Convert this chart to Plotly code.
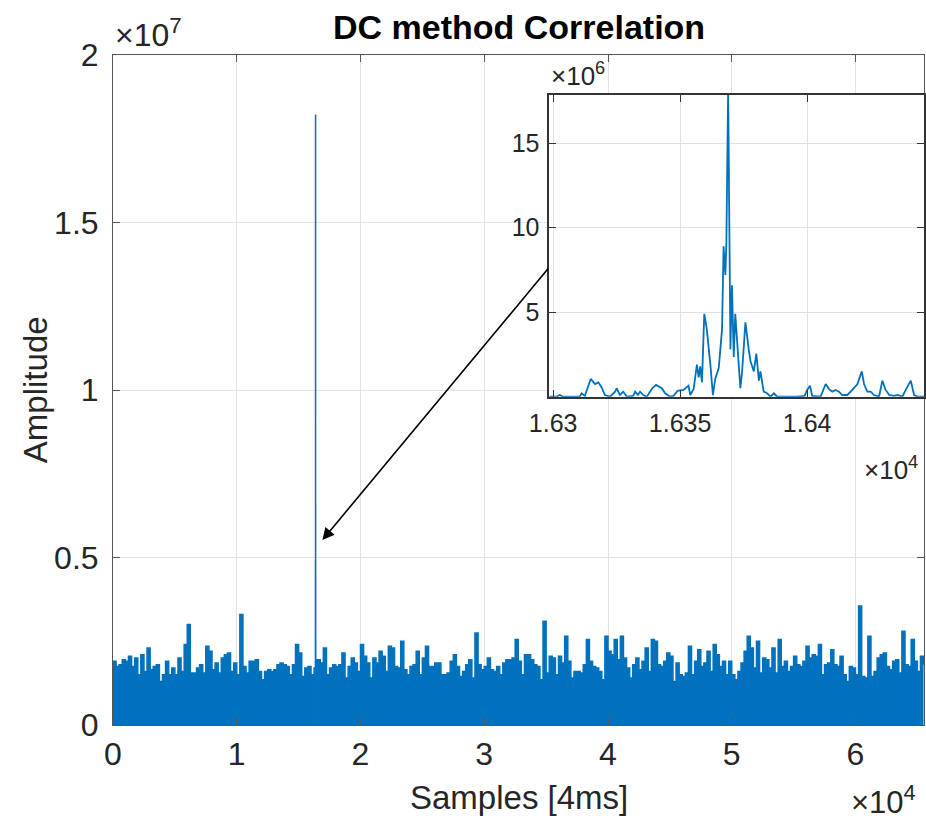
import plotly.graph_objects as go

# correlation magnitude, coarse readout every 250 samples (units of 1e6)
noise_step = 250
noise_vals = [
    1.9, 1.75, 1.8, 1.95, 1.9, 2.05, 1.75, 2.0, 1.5, 2.1,
    1.6, 2.3, 1.65, 1.75, 1.8, 1.3, 1.5, 1.9, 1.5, 1.7,
    1.5, 2.0, 1.6, 2.4, 3.0, 1.55, 1.55, 1.7, 1.8, 1.55,
    2.35, 2.2, 1.65, 1.85, 1.55, 2.0, 2.1, 2.15, 1.6, 1.85,
    1.5, 3.3, 1.75, 1.55, 1.9, 1.9, 1.95, 1.6, 1.35, 1.6,
    1.65, 1.6, 1.65, 1.8, 1.85, 1.8, 1.75, 1.5, 1.8, 2.4,
    2.15, 1.45, 1.7, 1.75, 1.5, 1.7, 1.95, 1.85, 2.3, 1.5,
    1.7, 1.8, 1.75, 1.8, 2.15, 1.4, 1.75, 2.0, 1.85, 1.6,
    2.4, 2.05, 1.85, 1.4, 2.0, 1.85, 2.2, 2.05, 1.6, 2.35,
    2.3, 1.75, 1.7, 2.5, 1.65, 1.5, 1.75, 1.8, 2.2, 1.5,
    2.0, 2.35, 1.75, 1.75, 1.85, 1.85, 1.5, 1.5, 1.55, 1.9,
    2.1, 1.75, 1.45, 1.6, 1.8, 1.95, 1.4, 2.75, 1.8, 1.65,
    1.75, 2.0, 1.65, 1.6, 1.75, 1.5, 1.85, 1.95, 1.95, 2.0,
    2.55, 1.9, 1.5, 2.1, 2.1, 1.95, 1.8, 1.75, 1.35, 3.1,
    1.55, 2.05, 2.0, 1.5, 2.05, 1.85, 2.65, 1.9, 1.4, 1.6,
    1.6, 1.55, 1.8, 2.55, 1.9, 1.75, 1.7, 1.6, 1.35, 2.65,
    2.2, 2.1, 2.55, 1.95, 2.65, 2.0, 1.7, 1.4, 1.8, 2.0,
    1.65, 1.9, 2.3, 1.6, 2.55, 2.5, 1.8, 1.75, 1.9, 2.15,
    2.05, 1.3, 1.85, 1.5, 1.45, 1.55, 2.35, 1.5, 1.9, 2.25,
    1.75, 1.85, 2.2, 1.6, 2.4, 2.1, 1.75, 1.9, 1.5, 1.9,
    1.5, 1.35, 1.6, 1.85, 2.2, 2.65, 2.3, 1.7, 2.5, 1.55,
    2.0, 1.95, 1.7, 2.3, 1.55, 2.55, 1.75, 1.9, 1.6, 1.75,
    2.05, 1.8, 1.75, 1.9, 2.35, 2.0, 2.1, 2.05, 2.4, 1.5,
    1.8, 1.85, 2.25, 1.8, 1.75, 2.05, 1.5, 1.3, 1.75, 1.7,
    1.5, 3.55, 1.45, 1.4, 2.65, 1.45, 1.6, 2.0, 2.1, 2.15,
    1.75, 1.65, 1.9, 1.95, 1.55, 2.8, 1.8, 1.75, 2.55, 1.9,
    1.6, 2.05, 1.8,
]

# detailed readout around the correlation peak (samples, units of 1e6)
zoom_x = [
    16298.4, 16301.3, 16302.6, 16304.0, 16307.0, 16310.5, 16311.2, 16312.5,
    16314.8, 16316.5, 16317.8, 16319.1, 16320.4, 16322.4, 16324.4, 16325.0,
    16326.3, 16327.6, 16329.0, 16331.5, 16332.3, 16333.4, 16334.2, 16335.5,
    16336.9, 16339.0, 16340.5, 16342.8, 16344.1, 16346.1, 16347.4, 16349.0,
    16351.3, 16353.3, 16354.0, 16355.3, 16356.6, 16357.3, 16357.9, 16358.6,
    16359.5, 16360.5, 16361.9, 16362.9, 16363.8, 16365.2, 16366.5, 16367.1,
    16367.8, 16368.2, 16368.9, 16369.8, 16370.4, 16371.1, 16371.7, 16373.0,
    16373.7, 16374.4, 16375.7, 16377.0, 16377.7, 16379.0, 16380.0, 16381.0,
    16381.6, 16382.9, 16384.2, 16385.6, 16386.9, 16388.2, 16393.4, 16396.1,
    16399.0, 16400.0, 16401.1, 16402.0, 16405.3, 16407.3, 16408.6, 16409.9,
    16411.2, 16412.5, 16413.8, 16415.8, 16417.8, 16419.8, 16421.5, 16422.4,
    16423.7, 16425.0, 16426.3, 16428.3, 16429.6, 16430.9, 16432.3, 16434.2,
    16435.6, 16437.5, 16438.8, 16440.8, 16442.1, 16443.5, 16446.1,
]
zoom_y = [
    0.0, 0.0, 0.1, 0.0, 0.0, 0.0, 0.2, 0.05,
    1.05, 0.75, 0.85, 0.55, 0.1, 0.0, 0.3, 0.5,
    0.1, 0.3, 0.0, 0.05, 0.3, 0.1, 0.3, 0.1,
    0.0, 0.5, 0.7, 0.5, 0.2, 0.0, 0.05, 0.35,
    0.4, 0.65, 0.1, 0.45, 1.9, 1.15, 1.8, 0.85,
    4.9, 4.0, 1.9, 0.1, 1.05, 1.7, 4.0, 8.9,
    7.2, 9.1, 18.2, 2.8, 6.6, 2.35, 4.9, 1.7,
    0.5, 1.5, 4.4, 2.8, 2.1, 1.5, 2.55, 0.95,
    1.5, 0.3, 0.2, 0.0, 0.2, 0.0, 0.0, 0.0,
    0.05, 0.4, 0.65, 0.05, 0.0, 0.75, 0.45, 0.3,
    0.4, 0.3, 0.1, 0.1, 0.4, 0.75, 1.5, 0.75,
    0.3, 0.3, 0.1, 0.0, 0.95, 0.4, 0.1, 0.05,
    0.1, 0.0, 0.4, 0.95, 0.1, 0.0, 0.0,
]

x_ticks = [0, 10000, 20000, 30000, 40000, 50000, 60000]
x_labels = ["0", "1", "2", "3", "4", "5", "6"]
y_ticks = [0, 5e6, 1e7, 1.5e7, 2e7]
y_labels = ["0", "0.5", "1", "1.5", "2"]
zx_ticks = [16300, 16350, 16400]
zx_labels = ["1.63", "1.635", "1.64"]
zy_ticks = [5e6, 1e7, 1.5e7]
zy_labels = ["5", "10", "15"]

# splice the detailed peak into the coarse series
noise_x = [i * noise_step for i in range(len(noise_vals))]
main_x, main_y = [], []
for x, v in zip(noise_x, noise_vals):
    if x < zoom_x[0]:
        main_x.append(x)
        main_y.append(v * 1e6)
main_x += zoom_x
main_y += [v * 1e6 for v in zoom_y]
for x, v in zip(noise_x, noise_vals):
    if x > zoom_x[-1]:
        main_x.append(x)
        main_y.append(v * 1e6)

blue = '#0072BD'
txt = '#262626'
font = 'Liberation Sans, Arial, sans-serif'

fig = go.Figure()
fig.add_trace(go.Scatter(x=main_x, y=main_y, mode='lines', line=dict(color=blue, width=1.5, shape='hv'),
                         fill='tozeroy', fillcolor=blue, showlegend=False))
fig.add_trace(go.Scatter(x=zoom_x, y=[v * 1e6 for v in zoom_y], mode='lines',
                         line=dict(color=blue, width=1.8), xaxis='x2', yaxis='y2', showlegend=False))

ax_style = dict(showline=True, linecolor='#555555', linewidth=1, mirror='ticks', ticks='inside',
                ticklen=7, tickcolor='#555555', showgrid=True, gridcolor='#E2E2E2', zeroline=False)
inset_style = {**ax_style, 'linewidth': 1.6, 'linecolor': '#333333', 'tickcolor': '#333333'}

fig.update_layout(
    width=926, height=818, autosize=False,
    margin=dict(l=113, r=2, t=55, b=93, autoexpand=False),
    paper_bgcolor='white', plot_bgcolor='white',
    font=dict(family=font, color=txt),
    xaxis=dict(range=[0, 65536], tickvals=x_ticks, ticktext=x_labels,
               tickfont=dict(size=32, color=txt), ticklabelstandoff=1, **ax_style),
    yaxis=dict(range=[0, 2e7], tickvals=y_ticks, ticktext=y_labels,
               tickfont=dict(size=32, color=txt), ticklabelstandoff=7, **ax_style),
    xaxis2=dict(domain=[0.538, 1.0], anchor='y2', range=[16298.5, 16446], tickvals=zx_ticks,
                ticktext=zx_labels, tickfont=dict(size=25, color=txt), ticklabelstandoff=3,
                **inset_style),
    yaxis2=dict(domain=[0.49, 0.9403], anchor='x2', range=[0, 1.785e7], tickvals=zy_ticks,
                ticktext=zy_labels, tickfont=dict(size=25, color=txt), ticklabelstandoff=3,
                **inset_style),
    shapes=[dict(type='rect', xref='x2 domain', yref='y2 domain', x0=0, x1=1, y0=0, y1=1,
                 fillcolor='white', line=dict(width=0), layer='below')],
)

fig.add_annotation(x=0.5, y=1.0418, xref='paper', yref='paper', xanchor='center', yanchor='middle',
                   showarrow=False, text='<b>DC method Correlation</b>', font=dict(size=34, color='black'))
fig.add_annotation(x=0.5, y=-0.1075, xref='paper', yref='paper', xanchor='center', yanchor='middle',
                   showarrow=False, text='Samples [4ms]', font=dict(size=33, color=txt))
fig.add_annotation(x=-0.096, y=0.5, xref='paper', yref='paper', xanchor='center', yanchor='middle',
                   showarrow=False, textangle=-90, text='Amplitude', font=dict(size=33, color=txt))
fig.add_annotation(x=0.0, y=1.0, xref='paper', yref='paper', xanchor='left', yanchor='bottom',
                   showarrow=False, text='×10<sup>7</sup>', font=dict(size=32, color=txt))
fig.add_annotation(x=0.992, y=-0.112, xref='paper', yref='paper', xanchor='right', yanchor='middle',
                   showarrow=False, text='×10<sup>4</sup>', font=dict(size=31, color=txt))
fig.add_annotation(x=0.538, y=0.944, xref='paper', yref='paper', xanchor='left', yanchor='bottom',
                   showarrow=False, text='×10<sup>6</sup>', font=dict(size=26, color=txt))
fig.add_annotation(x=0.995, y=0.41, xref='paper', yref='paper', xanchor='right', yanchor='top',
                   showarrow=False, text='×10<sup>4</sup>', font=dict(size=26, color=txt))

# arrow from the inset to the peak
fig.add_annotation(x=16920, y=5.52e6, ax=35270, ay=13.67e6, xref='x', yref='y', axref='x', ayref='y',
                   showarrow=True, text='', arrowhead=2, arrowsize=1.5, arrowwidth=1.6, arrowcolor='black')

# drop the default page margin so the figure sits at the window's corner
fig.write_html("out.html", config={'displayModeBar': False},
               post_script="document.body.style.margin='0';")
